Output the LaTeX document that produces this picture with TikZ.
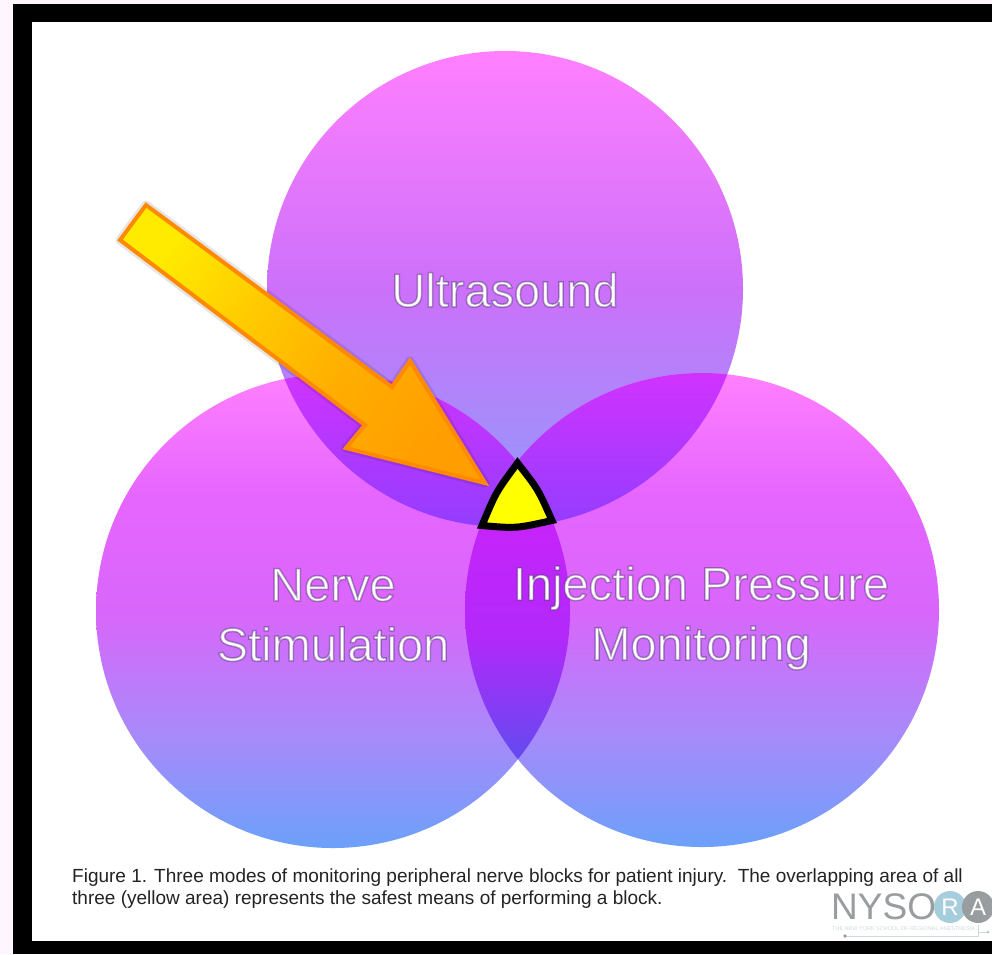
\documentclass[tikz,border=0pt]{standalone}
\usepackage{fontspec}
\setmainfont{Liberation Sans}
\newfontfamily\labfont{Liberation Sans}
\definecolor{pagebg}{RGB}{255,245,255}
\definecolor{logogrey}{RGB}{152,157,160}
\definecolor{logoblue}{RGB}{165,205,220}
\definecolor{logofaint}{RGB}{205,218,225}
\definecolor{capcol}{RGB}{35,35,35}
\definecolor{trifill}{RGB}{255,255,0}
\definecolor{arrowedge}{RGB}{255,138,0}
\pgfdeclareverticalshading{circshade}{100bp}{
 rgb(0bp)=(0.42,0.63,0.98); rgb(25bp)=(0.42,0.63,0.98);
 rgb(37bp)=(0.66,0.54,0.98); rgb(50bp)=(0.85,0.40,0.98);
 rgb(62bp)=(0.90,0.40,1.0); rgb(75bp)=(1.0,0.50,1.0); rgb(100bp)=(1.0,0.50,1.0)}
\pgfdeclareverticalshading{topcirc}{100bp}{
 rgb(0bp)=(0.55,0.62,0.98); rgb(25bp)=(0.55,0.62,0.98);
 rgb(50bp)=(0.80,0.44,0.98); rgb(75bp)=(1.0,0.50,1.0); rgb(100bp)=(1.0,0.50,1.0)}
\pgfdeclareverticalshading{lensupper}{100bp}{
 rgb(0bp)=(0.57,0.24,1.0); rgb(25bp)=(0.57,0.24,1.0);
 rgb(75bp)=(0.82,0.20,1.0); rgb(100bp)=(0.82,0.20,1.0)}
\pgfdeclareverticalshading{lenslower}{100bp}{
 rgb(0bp)=(0.39,0.29,0.94); rgb(25bp)=(0.39,0.29,0.94);
 rgb(50bp)=(0.70,0.16,0.98); rgb(75bp)=(0.78,0.14,0.98); rgb(100bp)=(0.78,0.14,0.98)}
\pgfdeclarehorizontalshading{arrowshade}{100bp}{
 rgb(0bp)=(1,0.92,0); rgb(25bp)=(1,0.92,0); rgb(40bp)=(1,0.80,0);
 rgb(58bp)=(1,0.68,0); rgb(75bp)=(1,0.62,0); rgb(100bp)=(1,0.62,0)}
\newcommand\halostart{\pgfsetstrokeopacity{.45}\special{pdf:code 2 Tr 1.5 w .30 .15 .45 RG}}
\newcommand\haloend{\special{pdf:code 0 Tr}}
\tikzset{
 x=1pt,y=-1pt,
 biglabel/.style={text=white,font=\labfont\fontsize{47}{60}\selectfont,align=center,inner sep=0pt},
 captext/.style={text=capcol,font=\fontsize{19}{22}\selectfont,anchor=north west,inner sep=0pt,align=left},
 logotext/.style={text=white,circle,minimum size=32pt,inner sep=0pt,font=\fontsize{24}{24}\selectfont},
}
\def\circT{(505,289) circle[radius=238pt]}
\def\circL{(333,611) circle[radius=237pt]}
\def\circR{(702,610) circle[radius=237pt]}
\def\arrowpath{(146,205) -- (392,387) -- (410,361) -- (485,483) -- (346,448) -- (365,425) -- (120,240) -- cycle}
\begin{document}
\begin{tikzpicture}
\useasboundingbox (0,0) rectangle (992,954);
\fill[pagebg] (0,0) rectangle (992,954);
\fill[black] (13,4) rectangle (992,954);
\fill[white] (32,22) rectangle (992,941);
% circles
\shade[shading=topcirc] \circT;
\shade[shading=circshade] \circL;
\shade[shading=circshade] \circR;
% overlaps
\begin{scope}
 \clip \circT;
 \begin{scope}\clip \circL; \shade[shading=lensupper] (90,372) rectangle (600,530); \end{scope}
 \begin{scope}\clip \circR; \shade[shading=lensupper] (440,372) rectangle (800,530); \end{scope}
\end{scope}
\begin{scope}
 \clip \circL; \clip \circR;
 \shade[shading=lenslower] (440,515) rectangle (600,758);
\end{scope}
% labels
\node[biglabel] (u) at (505,290) {\halostart Ultrasound\haloend};
\node[biglabel] (n) at (333,615) {\halostart Nerve\\Stimulation\haloend};
\node[biglabel] (i) at (701,618) {\halostart Injection Pressure\\Monitoring\haloend};
% arrow
\fill[black,fill opacity=.12,draw=black,draw opacity=.10,line join=round,line width=9pt] \arrowpath;
\shade[shading=arrowshade,shading angle=-36,draw=arrowedge,line width=4pt,line join=miter] \arrowpath;
% yellow triangle
\draw[fill=trifill,draw=black,line width=7pt,line join=miter,miter limit=10]
 (517.5,463) .. controls (538,489) .. (552,520.5) .. controls (516,528.5) .. (482,525.5) .. controls (496,492) .. cycle;
% caption
\node[captext] (cap) at (72,869) {Figure 1. Three modes of monitoring peripheral nerve blocks for patient injury.\ \ The overlapping area of all\\three (yellow area) represents the safest means of performing a block.};
% logo
\node[text=logogrey,font=\fontsize{37}{40}\selectfont,anchor=west,inner sep=0pt] (nyso) at (831,907) {NYSO};
\node[logotext,fill=logoblue] (lr) at (950,907) {R};
\node[logotext,fill=logogrey] (la) at (978,907) {A};
\node[text=logofaint,font=\fontsize{5.5}{5}\selectfont,anchor=west,inner sep=0pt] (lsub) at (832,929) {THE NEW YORK SCHOOL OF REGIONAL ANESTHESIA};
\coordinate (l1) at (845,936);
\coordinate (l2) at (978,936);
\coordinate (l3) at (978,925);
\coordinate (l4) at (978,932);
\coordinate (l5) at (988,932);
\draw[logofaint,line width=1pt] (l1) -- (l2) -- (l3);
\draw[logofaint,line width=1pt] (l4) -- (l5);
\fill[logogrey] (l1) circle[radius=1.8pt];
\fill[logoblue] (l5) circle[radius=1.5pt];
\end{tikzpicture}
\end{document}
